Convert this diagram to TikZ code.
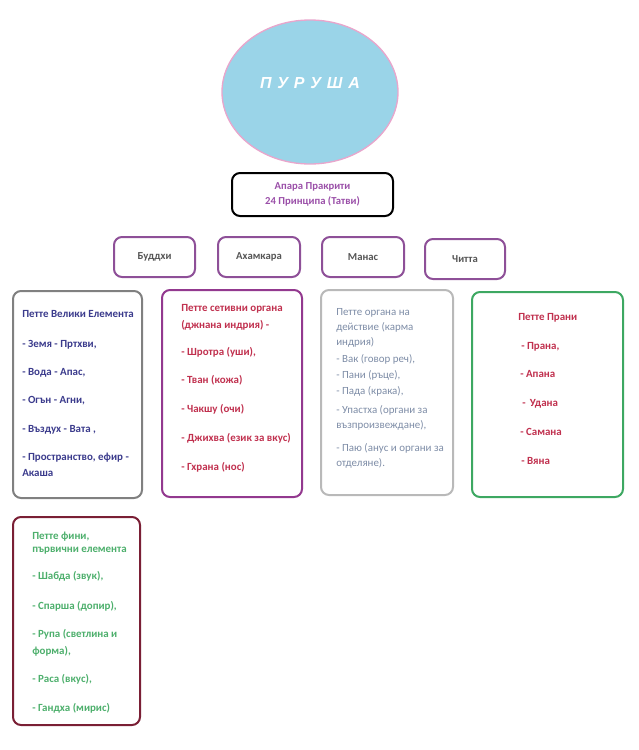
\documentclass[tikz,border=0pt]{standalone}
\usepackage{fontspec}
\setmainfont{Carlito}
\newfontfamily\purfont[LetterSpace=8]{Liberation Sans}
\usetikzlibrary{shapes.geometric}
\definecolor{PurushaFill}{HTML}{9AD4E8}
\definecolor{PurushaEdge}{HTML}{E8A6CC}
\definecolor{BoxPurple}{HTML}{8E5098}
\definecolor{TextPurple}{HTML}{9A4FA8}
\definecolor{TextGray}{HTML}{555555}
\definecolor{ElemBlue}{HTML}{3B3B8C}
\definecolor{SenseRed}{HTML}{C0304E}
\definecolor{ActSlate}{HTML}{7D8CA6}
\definecolor{PranaGreen}{HTML}{3DA862}
\definecolor{FineGreen}{HTML}{4DAF6C}
\definecolor{FineMaroon}{HTML}{7A1F35}
\definecolor{SenseMagenta}{HTML}{93398F}

\begin{document}
\begin{tikzpicture}[x=0.75pt, y=-0.75pt,
    bigbox/.style={draw, rounded corners=6pt, line width=1.5pt, inner sep=0pt},
    smallbox/.style={draw=BoxPurple, rounded corners=6pt, line width=1.5pt, inner sep=0pt,
        minimum height=30pt, font=\fontsize{8}{9}\selectfont\bfseries, text=TextGray},
    item/.style={anchor=base west, inner sep=0pt, font=\fontsize{8.2}{10}\selectfont\bfseries},
    thinitem/.style={anchor=base west, inner sep=0pt, font=\fontsize{8.2}{10}\selectfont}]
    \useasboundingbox (0,0) rectangle (639,750);

    % Purusha
    \node[ellipse, fill=PurushaFill, draw=PurushaEdge, line width=1pt, inner sep=0pt,
        minimum width=132pt, minimum height=108pt] (purusha) at (310,92) {};
    \node[text=white, font=\purfont\bfseries\itshape\fontsize{12}{14}\selectfont] (purushatxt) at (310,83) {П У Р У Ш А};

    % Apara Prakriti
    \node[bigbox, draw=black, minimum width=120.75pt, minimum height=32.25pt,
        align=center, text=TextPurple, font=\fontsize{8}{11.5}\selectfont\bfseries] (apara) at (312.5,194.5)
        {Апара Пракрити\\24 Принципа (Татви)};

    % Inner instruments
    \node[smallbox, minimum width=60.75pt] (buddhi) at (154.5,257) {Буддхи};
    \node[smallbox, minimum width=61.5pt] (ahamkara) at (259,257) {Ахамкара};
    \node[smallbox, minimum width=61.5pt] (manas) at (363,257) {Манас};
    \node[smallbox, minimum width=60pt] (chitta) at (465,259) {Читта};

    % Great elements
    \node[bigbox, draw=gray, minimum width=96.75pt, minimum height=155.25pt] (elements) at (77.5,394.5) {};
    \begin{scope}[every node/.style={item, text=ElemBlue}]
        \node (el0) at (22,317) {Петте Велики Елемента};
        \node (el1) at (22,347) {- Земя - Пртхви,};
        \node (el2) at (22,375) {- Вода - Апас,};
        \node (el3) at (22,403) {- Огън - Агни,};
        \node (el4) at (22,432) {- Въздух - Вата ,};
        \node (el5) at (22,460) {- Пространство, ефир -};
        \node (el6) at (22,476) {Акаша};
    \end{scope}

    % Sense organs
    \node[bigbox, draw=SenseMagenta, minimum width=105pt, minimum height=155.25pt] (senses) at (232,393.5) {};
    \begin{scope}[every node/.style={item, text=SenseRed}]
        \node (se0) at (181,311) {Петте сетивни органа};
        \node (se1) at (181,328) {(джнана индрия) -};
        \node (se2) at (181,355) {- Шротра (уши),};
        \node (se3) at (181,383) {- Тван (кожа)};
        \node (se4) at (181,412) {- Чакшу (очи)};
        \node (se5) at (181,441) {- Джихва (език за вкус)};
        \node (se6) at (181,470) {- Гхрана (нос)};
    \end{scope}

    % Organs of action
    \node[bigbox, draw=gray!55, minimum width=99pt, minimum height=153.75pt] (action) at (387,392.5) {};
    \begin{scope}[every node/.style={thinitem, text=ActSlate}]
        \node (ac0) at (336,315) {Петте органа на};
        \node (ac1) at (336,330) {действие (карма};
        \node (ac2) at (336,345) {индрия)};
        \node (ac3) at (336,362) {- Вак (говор реч),};
        \node (ac4) at (336,378) {- Пани (ръце),};
        \node (ac5) at (336,394) {- Пада (крака),};
        \node (ac6) at (336,413) {- Упастха (органи за};
        \node (ac7) at (336,428) {възпроизвеждане),};
        \node (ac8) at (336,451) {- Паю (анус и органи за};
        \node (ac9) at (336,466) {отделяне).};
    \end{scope}

    % Five pranas
    \node[bigbox, draw=PranaGreen, minimum width=113.25pt, minimum height=153.75pt] (pranas) at (547.5,394.5) {};
    \begin{scope}[every node/.style={item, text=SenseRed}]
        \node (pr0) at (518,320) {Петте Прани};
        \node (pr1) at (521,349) {- Прана,};
        \node (pr2) at (520,377) {- Апана};
        \node (pr3) at (522,406) {-\, Удана};
        \node (pr4) at (520,435) {- Самана};
        \node (pr5) at (521,464) {- Вяна};
    \end{scope}

    % Subtle elements
    \node[bigbox, draw=FineMaroon, minimum width=95.25pt, minimum height=156pt] (subtle) at (76.5,621) {};
    \begin{scope}[every node/.style={item, text=FineGreen}]
        \node (su0) at (32,539) {Петте фини,};
        \node (su1) at (32,552) {първични елемента};
        \node (su2) at (32,579) {- Шабда (звук),};
        \node (su3) at (32,609) {- Спарша (допир),};
        \node (su4) at (32,637) {- Рупа (светлина и};
        \node (su5) at (32,654) {форма),};
        \node (su6) at (32,682) {- Раса (вкус),};
        \node (su7) at (32,711) {- Гандха (мирис)};
    \end{scope}
\end{tikzpicture}
\end{document}
